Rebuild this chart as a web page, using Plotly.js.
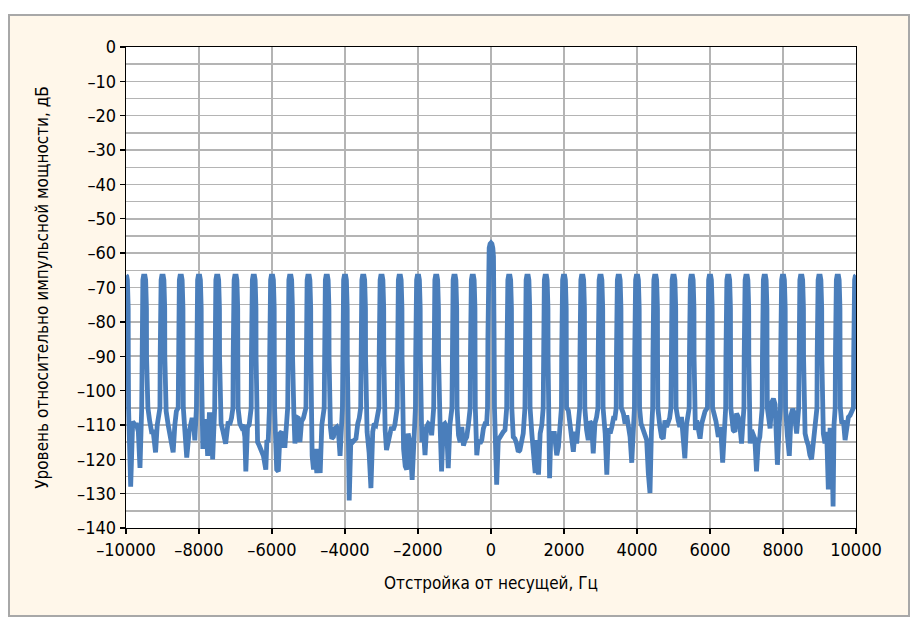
<!DOCTYPE html>
<html>
<head>
<meta charset="utf-8">
<script src="https://cdn.plot.ly/plotly-3.0.1.min.js"></script>
<style>
  html, body { margin: 0; padding: 0; background: #ffffff; }
  #frame { position: absolute; left: 8px; top: 14px; width: 898px; height: 599px;
           background: #fff7ea; border: 2px solid #a8a8a8; }
  #chart { position: absolute; left: 0; top: 0; width: 912px; height: 619px; }
</style>
</head>
<body>
<div id="frame"></div>
<div id="chart"></div>
<script>
// Peak (harmonic) frequencies, Hz, and their levels, dB
const peakHz = [-10000,-9500,-9000,-8500,-8000,-7500,-7000,-6500,-6000,-5500,
                -5000,-4500,-4000,-3500,-3000,-2500,-2000,-1500,-1000,-500,
                0,500,1000,1500,2000,2500,3000,3500,4000,4500,
                5000,5500,6000,6500,7000,7500,8000,8500,9000,9500,10000];
const peakDb = [-66.5,-66.5,-66.5,-66.5,-66.5,-66.5,-66.5,-66.5,-66.5,-66.5,
                -66.5,-66.5,-66.5,-66.5,-66.5,-66.5,-66.5,-66.5,-66.5,-66.5,
                -57,-66.5,-66.5,-66.5,-66.5,-66.5,-66.5,-66.5,-66.5,-66.5,
                -66.5,-66.5,-66.5,-66.5,-66.5,-66.5,-66.5,-66.5,-66.5,-66.5,-66.5];

// Typical side-band peak flanks (offset from peak, Hz / level, dB)
const flankOutHz = [20, 38, 52, 60, 63, 70];
const flankOutDb = [-66.7, -67.8, -70.5, -76, -90, -105];
const flankInHz  = [430, 437, 440, 448, 462, 480];
const flankInDb  = [-105, -90, -76, -70.5, -67.8, -66.7];
// Carrier peak flanks
const carrierOutHz = [25, 50, 68, 78, 85, 95, 130];
const carrierOutDb = [-57.3, -58.5, -61, -66, -85, -105, -118];
const carrierInHz  = [405, 415, 422, 432, 450, 475];
const carrierInDb  = [-105, -85, -66, -61, -58.5, -57.3];

// Noise floor between neighbouring peaks: [offset from left peak, Hz, level dB]
const gapFloor = [
  [[128,-128],[183,-109],[246,-110],[292,-110],[338,-112],[383,-122.5]],
  [[100,-105],[150,-109],[201,-112],[246,-112],[310,-118],[356,-110],[395,-108]],
  [[100,-106],[155,-110],[201,-112.5],[247,-114],[292,-118],[338,-110],[380,-106]],
  [[115,-112],[164,-119.5],[230,-112],[301,-108.5],[350,-108.5],[385,-114.5]],
  [[105,-117],[146,-109],[192,-109],[237,-119],[283,-107],[329,-107],[374,-120]],
  [[105,-109.6],[160,-112],[230,-115.5],[300,-109],[340,-110],[390,-108]],
  [[119,-109.6],[164,-110.6],[210,-110],[256,-113.5],[283,-123.5],[329,-110.6],[374,-110]],
  [[105,-115],[150,-116],[200,-117.5],[265,-119],[330,-123],[360,-114.4],[395,-115]],
  [[128,-123],[173,-123.5],[219,-112.5],[265,-112],[310,-116],[356,-116]],
  [[100,-107],[128,-115.4],[173,-107.7],[219,-108],[265,-115],[310,-109],[360,-108]],
  [[100,-119],[137,-123],[183,-117],[228,-124],[274,-117],[320,-124],[365,-110]],
  [[100,-110.6],[137,-114],[183,-113.5],[228,-111],[274,-110.6],[320,-112],[365,-119]],
  [[115,-132],[160,-114.4],[210,-115],[260,-114.4],[300,-114],[350,-109.6],[390,-108]],
  [[105,-112],[160,-118],[210,-128.4],[260,-112],[300,-109.6],[345,-110],[390,-108]],
  [[100,-111.5],[137,-117.3],[183,-114.4],[228,-113.5],[274,-110.6],[320,-111.5],[365,-110]],
  [[105,-117],[150,-122],[190,-123],[230,-112.5],[280,-115],[340,-126],[390,-112]],
  [[105,-115],[146,-110.6],[192,-118.8],[237,-110.6],[283,-109.6],[329,-110],[374,-113]],
  [[105,-110],[146,-123.5],[192,-110],[237,-109.6],[283,-110.6],[329,-122.6],[374,-110]],
  [[110,-113],[155,-115],[200,-110.6],[245,-116],[290,-114.4],[335,-113.5],[380,-110]],
  [[110,-118.8],[155,-114.4],[200,-115.4],[247,-114.4],[292,-111],[338,-109.6],[380,-109.6]],
  [[155,-127.4],[200,-114.4],[247,-113.5],[292,-112.5],[338,-112],[383,-111.5]],
  [[110,-113.5],[155,-114],[200,-115.4],[247,-117.8],[292,-117.3],[338,-113.5],[383,-112.5]],
  [[119,-112.5],[164,-119],[210,-124],[256,-114.4],[301,-124.5],[347,-112.5],[393,-110]],
  [[105,-125.5],[137,-113.5],[192,-112.5],[237,-112.5],[301,-118.8],[347,-116.4],[393,-110]],
  [[119,-105.8],[164,-110.6],[210,-112],[256,-117.8],[301,-112],[347,-115.4],[393,-109.6]],
  [[119,-111.5],[164,-114.4],[210,-109],[256,-109.6],[301,-118.3],[347,-109.6],[393,-107.7]],
  [[128,-112.5],[173,-124.5],[219,-111],[265,-112.5],[310,-110.6],[356,-108],[395,-108]],
  [[128,-106.7],[173,-109.6],[219,-107.2],[265,-109.6],[310,-113.5],[356,-121],[395,-110]],
  [[110,-109.6],[173,-112],[219,-112.5],[265,-114.4],[310,-124],[356,-129.8],[395,-112]],
  [[128,-110.6],[173,-113.5],[219,-114],[265,-108.7],[310,-110.6],[356,-109.6],[395,-108]],
  [[128,-108.7],[173,-110.6],[219,-107.7],[265,-112.5],[310,-119.7],[356,-110],[395,-108]],
  [[100,-111.5],[137,-108.7],[183,-112.5],[228,-114],[274,-109.6],[320,-107.7],[365,-106]],
  [[110,-106.7],[164,-109],[228,-113.5],[292,-110.6],[347,-121],[393,-110]],
  [[137,-111.5],[183,-112],[228,-106.7],[274,-107.7],[320,-110.6],[365,-115.4],[398,-110]],
  [[100,-115.4],[137,-111.5],[183,-112.5],[228,-114],[274,-123.5],[320,-115.4],[365,-113.5]],
  [[105,-107.7],[146,-111],[192,-103.4],[237,-102.4],[283,-104],[347,-121.6],[395,-110]],
  [[119,-113],[173,-119],[219,-107.2],[265,-105.3],[310,-106.7],[374,-112.5]],
  [[105,-112.5],[146,-114.4],[192,-115.9],[237,-118.8],[283,-120],[329,-115.4],[374,-110.6]],
  [[105,-112.5],[150,-115.4],[196,-112],[242,-128.8],[288,-111.5],[333,-111.5],[372,-133.7],[398,-110]],
  [[110,-109.6],[155,-108.7],[201,-114.4],[247,-111.5],[292,-107.7],[338,-107.2],[383,-106]]
];

const carrierIndex = peakDb.indexOf(Math.max(...peakDb));

const freq = [], level = [];
for (let k = 0; k < peakHz.length; k++) {
  freq.push(peakHz[k]); level.push(peakDb[k]);
  if (k === peakHz.length - 1) break;
  const base = peakHz[k];
  const outHz = (k === carrierIndex) ? carrierOutHz : flankOutHz;
  const outDb = (k === carrierIndex) ? carrierOutDb : flankOutDb;
  outHz.forEach((o, i) => { freq.push(base + o); level.push(outDb[i]); });
  gapFloor[k].forEach(p => { freq.push(base + p[0]); level.push(p[1]); });
  const inHz = (k + 1 === carrierIndex) ? carrierInHz : flankInHz;
  const inDb = (k + 1 === carrierIndex) ? carrierInDb : flankInDb;
  inHz.forEach((o, i) => { freq.push(base + o); level.push(inDb[i]); });
}

const xTicks = [-10000,-8000,-6000,-4000,-2000,0,2000,4000,6000,8000,10000];
const yTicks = [0,-10,-20,-30,-40,-50,-60,-70,-80,-90,-100,-110,-120,-130,-140];

const FONT = '"Liberation Sans Narrow", "Arial Narrow", "DejaVu Sans Condensed", sans-serif';
const GRID = '#b4b4b4';

const trace = {
  x: freq, y: level, type: 'scatter', mode: 'lines',
  line: { color: '#4a7ebb', width: 4.8 },
  hoverinfo: 'x+y'
};

const layout = {
  width: 912, height: 619,
  margin: { l: 126, r: 56, t: 47, b: 91 },
  paper_bgcolor: 'rgba(0,0,0,0)',
  plot_bgcolor: '#ffffff',
  showlegend: false,
  font: { family: FONT, size: 18, color: '#000000' },
  xaxis: {
    range: [-10000, 10000], tickvals: xTicks, ticktext: xTicks.map(v => v < 0 ? '\u2013' + Math.abs(v) : String(v)),
    showgrid: true, gridcolor: GRID, gridwidth: 1.5, zeroline: false,
    showline: true, linecolor: '#000000', linewidth: 1.3, mirror: true,
    ticks: 'outside', ticklen: 5, tickcolor: '#000000', tickwidth: 1.3,
    tickfont: { family: FONT, size: 18, color: '#000000' },
    title: { text: 'Отстройка от несущей, Гц', font: { family: FONT, size: 17, color: '#000000' }, standoff: 18 },
    automargin: false
  },
  yaxis: {
    range: [-140, 0], tickvals: yTicks, ticktext: yTicks.map(v => v < 0 ? '\u2013' + Math.abs(v) : String(v)),
    showgrid: true, gridcolor: GRID, gridwidth: 1.5, zeroline: false,
    minor: { dtick: 5, tick0: 0, showgrid: true, gridcolor: GRID, gridwidth: 1.5, ticks: '' },
    showline: true, linecolor: '#000000', linewidth: 1.3, mirror: true,
    ticks: 'outside', ticklen: 5, tickcolor: '#000000', tickwidth: 1.3,
    tickfont: { family: FONT, size: 18, color: '#000000' },
    title: { text: 'Уровень относительно импульсной мощности, дБ', font: { family: FONT, size: 17, color: '#000000' }, standoff: 24 },
    automargin: false
  }
};

Plotly.newPlot('chart', [trace], layout, { displayModeBar: false, staticPlot: true });
</script>
</body>
</html>
